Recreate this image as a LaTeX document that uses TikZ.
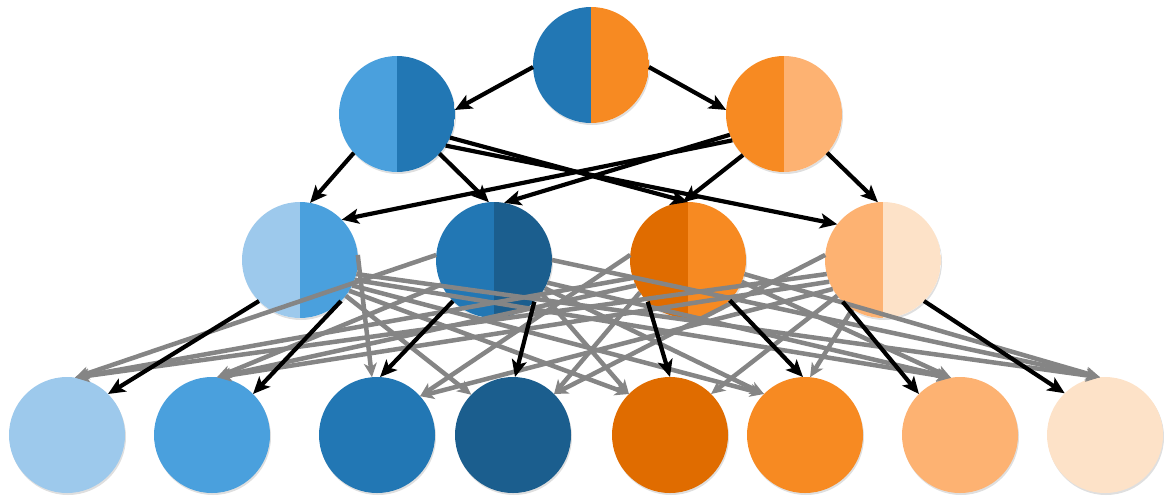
\documentclass[tikz,border=0pt]{standalone}
\usetikzlibrary{arrows.meta,shadows}
\definecolor{bA}{HTML}{9DC9EC}
\definecolor{bB}{HTML}{4AA0DD}
\definecolor{bC}{HTML}{2277B4}
\definecolor{bD}{HTML}{1B5E8E}
\definecolor{oA}{HTML}{E06C00}
\definecolor{oB}{HTML}{F78A22}
\definecolor{oC}{HTML}{FDB272}
\definecolor{oD}{HTML}{FDE2C8}
\definecolor{grayln}{HTML}{858585}
\begin{document}
\begin{tikzpicture}[x=1pt,y=-1pt,
  ball/.style={circle,minimum size=116pt,inner sep=0pt,outer sep=0pt,
    drop shadow={shadow xshift=1pt,shadow yshift=-2pt,opacity=0.25}},
  half/.style 2 args={ball,fill=white,path picture={
      \fill[#1] (path picture bounding box.south west) rectangle (path picture bounding box.north);
      \fill[#2] (path picture bounding box.north) rectangle (path picture bounding box.south east);}},
  solidball/.style={ball,fill=#1},
  blk/.style={line width=4.2pt,black,-{Stealth[length=17pt,width=15pt,inset=4pt]}},
  gry/.style={line width=4.5pt,grayln,-{Stealth[length=14pt,width=13pt,inset=4pt]}}]
\useasboundingbox (0,0) rectangle (1164,496);
% nodes
\node[half={bC}{oB}] (r) at (591,65) {};
\node[half={bB}{bC}] (p1) at (397,114) {};
\node[half={oB}{oC}] (p2) at (784,114) {};
\node[half={bA}{bB}] (q1) at (300,260) {};
\node[half={bC}{bD}] (q2) at (494,260) {};
\node[half={oA}{oB}] (q3) at (688,260) {};
\node[half={oC}{oD}] (q4) at (883,260) {};
\node[solidball=bA] (s1) at (67,435) {};
\node[solidball=bB] (s2) at (212,435) {};
\node[solidball=bC] (s3) at (377,435) {};
\node[solidball=bD] (s4) at (513,435) {};
\node[solidball=oA] (s5) at (670,435) {};
\node[solidball=oB] (s6) at (805,435) {};
\node[solidball=oC] (s7) at (960,435) {};
\node[solidball=oD] (s8) at (1105,435) {};
% gray connectors
\draw[gry] (q1.5) -- (s3.95);
\draw[gry] (q1.322) -- (s4.136);
\draw[gry] (q1.328) -- (s5.135);
\draw[gry] (q1.334) -- (s6.135);
\draw[gry] (q1.340) -- (s7.99);
\draw[gry] (q1.346) -- (s8.95);
\draw[gry] (q2.175) -- (s1.82);
\draw[gry] (q2.205) -- (s2.85);
\draw[gry] (q2.325) -- (s5.135);
\draw[gry] (q2.331) -- (s6.135);
\draw[gry] (q2.337) -- (s7.99);
\draw[gry] (q2.0) -- (s8.95);
\draw[gry] (q3.198) -- (s1.82);
\draw[gry] (q3.206) -- (s2.85);
\draw[gry] (q3.175) -- (s3.42);
\draw[gry] (q3.214) -- (s4.45);
\draw[gry] (q3.338) -- (s7.99);
\draw[gry] (q3.346) -- (s8.95);
\draw[gry] (q4.194) -- (s1.82);
\draw[gry] (q4.202) -- (s2.85);
\draw[gry] (q4.210) -- (s3.42);
\draw[gry] (q4.175) -- (s4.45);
\draw[gry] (q4.218) -- (s5.45);
\draw[gry] (q4.238) -- (s6.85);
% black connectors
\draw[blk] (r.182) -- (p1.4);
\draw[blk] (r.-2) -- (p2.176);
\draw[blk] (p1.222) -- (q1.80);
\draw[blk] (p1.317) -- (q2.95);
\draw[blk] (p1.336) -- (q3.90);
\draw[blk] (p1.327) -- (q4.142);
\draw[blk] (p2.207) -- (q1.44);
\draw[blk] (p2.201) -- (q2.80);
\draw[blk] (p2.225) -- (q3.95);
\draw[blk] (p2.318) -- (q4.95);
\draw[blk] (q1.225) -- (s1.45);
\draw[blk] (q1.315) -- (s2.45);
\draw[blk] (q2.225) -- (s3.87);
\draw[blk] (q2.314) -- (s4.88);
\draw[blk] (q3.226) -- (s5.90);
\draw[blk] (q3.316) -- (s6.92);
\draw[blk] (q4.226) -- (s7.135);
\draw[blk] (q4.315) -- (s8.134);
\end{tikzpicture}
\end{document}
